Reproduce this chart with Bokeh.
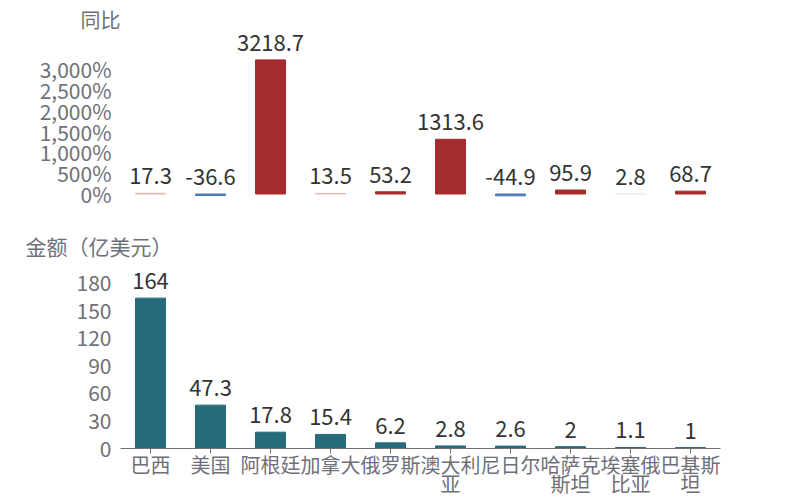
from bokeh.plotting import figure
from bokeh.layouts import column
from bokeh.models import ColumnDataSource, FixedTicker, CategoricalAxis, CustomJSTickFormatter
from bokeh.core.properties import value
from bokeh.embed import file_html
from bokeh.resources import INLINE

countries = ["巴西", "美国", "阿根廷", "加拿大", "俄罗斯", "澳大利亚", "尼日尔", "哈萨克斯坦", "埃塞俄比亚", "巴基斯坦"]
label_line1 = ["巴西", "美国", "阿根廷", "加拿大", "俄罗斯", "澳大利", "尼日尔", "哈萨克", "埃塞俄", "巴基斯"]
label_line2 = ["", "", "", "", "", "亚", "", "斯坦", "比亚", "坦"]
yoy = [17.3, -36.6, 3218.7, 13.5, 53.2, 1313.6, -44.9, 95.9, 2.8, 68.7]
amount = [164, 47.3, 17.8, 15.4, 6.2, 2.8, 2.6, 2, 1.1, 1]
yoy_ticks = [0, 500, 1000, 1500, 2000, 2500, 3000]
amount_ticks = [0, 30, 60, 90, 120, 150, 180]

FONT = "Noto Sans CJK SC"
GRAY = "#6e7079"
TXT = "#333333"


def yoy_color(v):
    if v < 0:
        return "#4a78b8"
    if v < 10:
        return "#f4e6e8"
    if v < 50:
        return "#e8b6b6"
    return "#a42c2e"


def cat_formatter(keys, labels):
    return CustomJSTickFormatter(
        args=dict(keys=keys, labels=labels),
        code="const i = keys.indexOf(tick); return i >= 0 ? labels[i] : tick;",
    )


src1 = ColumnDataSource(dict(
    x=countries, top=yoy, color=[yoy_color(v) for v in yoy],
    ly=[max(v, 0) for v in yoy], lab=[f"{v:g}" for v in yoy],
))
src2 = ColumnDataSource(dict(
    x=countries, top=amount, lab=[f"{v:g}" for v in amount],
))

W = 784
p1 = figure(x_range=countries, y_range=(-156, 3852), width=W, height=213,
            output_backend="svg", toolbar_location=None, x_axis_location=None,
            title="同比", min_border_left=120, min_border_right=W - 720,
            min_border_top=33, min_border_bottom=13)
p1.title.align = "left"
p1.title.offset = -40
p1.title.standoff = 0
p1.title.text_font = FONT
p1.title.text_font_size = "20px"
p1.title.text_font_style = "normal"
p1.title.text_color = GRAY
p1.vbar(x="x", top="top", bottom=0, width=0.5, color="color", source=src1)
p1.text(x="x", y="ly", text="lab", source=src1, text_align="center",
        text_baseline="bottom", y_offset=-9, text_font=value(FONT),
        text_font_size="22px", text_color=TXT)
p1.yaxis.ticker = FixedTicker(ticks=yoy_ticks)
p1.yaxis.major_label_overrides = {t: f"{t:,}%" for t in yoy_ticks}
p1.yaxis.axis_line_color = None
p1.yaxis.major_tick_line_color = None
p1.yaxis.minor_tick_line_color = None
p1.yaxis.major_label_text_font = FONT
p1.yaxis.major_label_text_font_size = "21px"
p1.yaxis.major_label_text_color = GRAY
p1.yaxis.major_label_standoff = 3
p1.grid.visible = False
p1.outline_line_color = None

p2 = figure(x_range=countries, y_range=(0, 199.6), width=W, height=287,
            output_backend="svg", toolbar_location=None,
            title="金额（亿美元）", min_border_left=120, min_border_right=W - 720,
            min_border_top=52, min_border_bottom=52)
p2.title.align = "left"
p2.title.offset = -95
p2.title.text_font = FONT
p2.title.text_font_size = "21px"
p2.title.text_font_style = "normal"
p2.title.text_color = GRAY
p2.vbar(x="x", top="top", bottom=0, width=0.5, color="#276a7b", source=src2)
p2.text(x="x", y="top", text="lab", source=src2, text_align="center",
        text_baseline="bottom", y_offset=-9, text_font=value(FONT),
        text_font_size="22px", text_color=TXT)
p2.yaxis.ticker = FixedTicker(ticks=amount_ticks)
p2.yaxis.axis_line_color = None
p2.yaxis.major_tick_line_color = None
p2.yaxis.minor_tick_line_color = None
p2.yaxis.major_label_text_font = FONT
p2.yaxis.major_label_text_font_size = "21px"
p2.yaxis.major_label_text_color = GRAY
p2.yaxis.major_label_standoff = 3
p2.xaxis.formatter = cat_formatter(countries, label_line1)
p2.xaxis.axis_line_color = GRAY
p2.xaxis.major_tick_line_color = GRAY
p2.xaxis.major_tick_in = 0
p2.xaxis.major_tick_out = 5
p2.xaxis.minor_tick_line_color = None
p2.xaxis.major_label_text_font = FONT
p2.xaxis.major_label_text_font_size = "20px"
p2.xaxis.major_label_text_color = GRAY
p2.xaxis.major_label_standoff = -4

ax2 = CategoricalAxis(formatter=cat_formatter(countries, label_line2),
                      axis_line_color=None, major_tick_line_color=None,
                      minor_tick_line_color=None, major_tick_in=0, major_tick_out=0,
                      major_label_text_font=FONT, major_label_text_font_size="20px",
                      major_label_text_color=GRAY, major_label_standoff=-13)
p2.add_layout(ax2, "below")
p2.grid.visible = False
p2.outline_line_color = None

layout = column(p1, p2, spacing=0)
open("out.html", "w").write(file_html(layout, INLINE))
